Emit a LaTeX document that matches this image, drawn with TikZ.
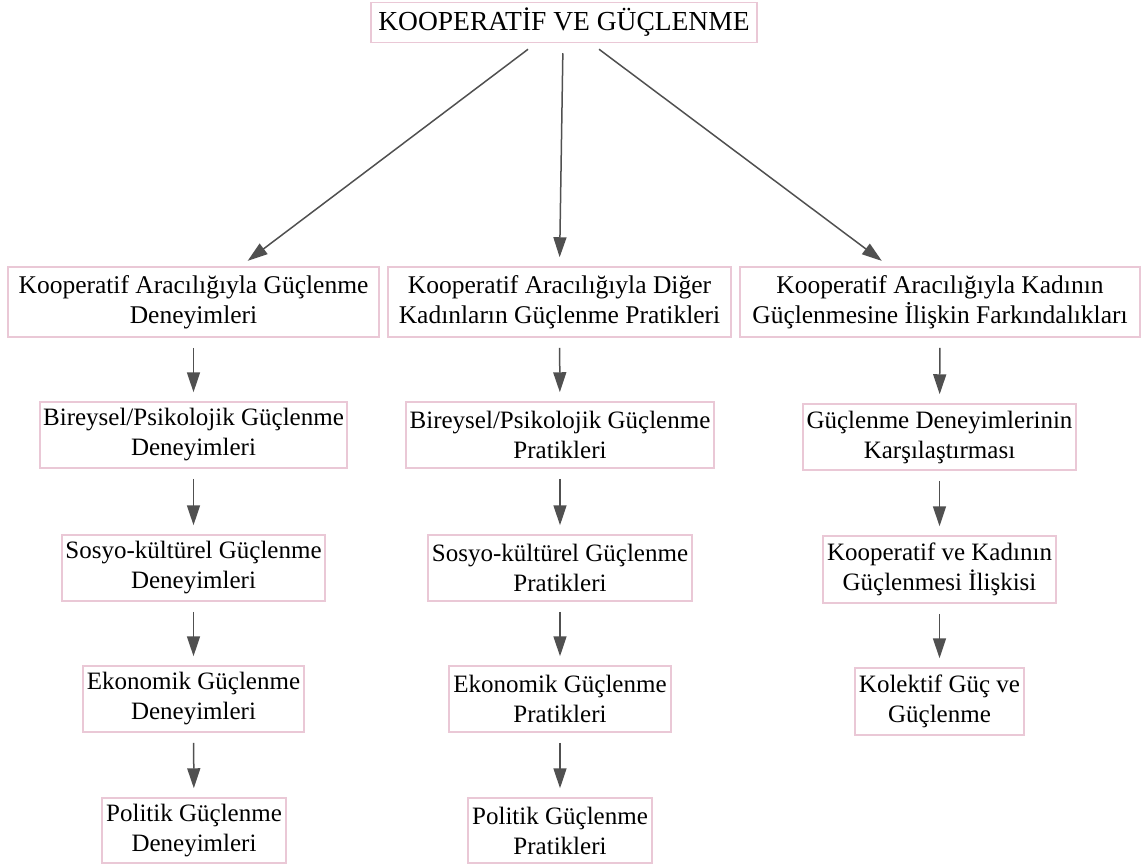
\documentclass[tikz,border=0pt]{standalone}
\usepackage{fontspec}
\setmainfont{Liberation Serif}
\usetikzlibrary{arrows.meta}
\definecolor{boxpink}{RGB}{234,200,214}
\definecolor{arrgray}{RGB}{80,80,80}

\begin{document}
\begin{tikzpicture}[x=1pt,y=-1pt,
  box/.style={draw=boxpink, line width=1.5pt, fill=white, align=center, inner sep=0pt, font=\fontsize{25}{30}\selectfont},
  arr/.style={draw=arrgray, line width=1.5pt, -{Triangle[length=20pt,width=13pt]}, arrgray, shorten <=10pt, shorten >=9pt}]
  \useasboundingbox (0,0) rectangle (1142,865);
  \node [box, minimum width=386pt, minimum height=40pt, font=\fontsize{27.5}{33}\selectfont] (top) at (564,22.5) {KOOPERATİF VE GÜÇLENME};

  \node [box, minimum width=371pt, minimum height=70pt, font=\fontsize{25.5}{30}\selectfont] (exp) at (193.5,302) {Kooperatif Aracılığıyla Güçlenme\\Deneyimleri};
  \node [box, minimum width=343pt, minimum height=70pt, font=\fontsize{25.5}{30}\selectfont] (prac) at (559.5,302) {Kooperatif Aracılığıyla Diğer\\Kadınların Güçlenme Pratikleri};
  \node [box, minimum width=400pt, minimum height=70pt, font=\fontsize{25.5}{30}\selectfont] (aware) at (940,302) {Kooperatif Aracılığıyla Kadının\\Güçlenmesine İlişkin Farkındalıkları};

  \node [box, minimum width=307pt, minimum height=66pt] (expind) at (193.5,435) {Bireysel/Psikolojik Güçlenme\\Deneyimleri};
  \node [box, minimum width=263pt, minimum height=66pt] (expsoc) at (193.5,568) {Sosyo-kültürel Güçlenme\\Deneyimleri};
  \node [box, minimum width=221pt, minimum height=66pt] (expeco) at (193.5,699) {Ekonomik Güçlenme\\Deneyimleri};
  \node [box, minimum width=184pt, minimum height=65pt] (exppol) at (194,830.5) {Politik Güçlenme\\Deneyimleri};

  \node [box, minimum width=308pt, minimum height=66pt] (pracind) at (560,435) {Bireysel/Psikolojik Güçlenme\\Pratikleri};
  \node [box, minimum width=264pt, minimum height=66pt] (pracsoc) at (560,568) {Sosyo-kültürel Güçlenme\\Pratikleri};
  \node [box, minimum width=222pt, minimum height=66pt] (praceco) at (560,699) {Ekonomik Güçlenme\\Pratikleri};
  \node [box, minimum width=184pt, minimum height=65pt] (pracpol) at (560,830.5) {Politik Güçlenme\\Pratikleri};

  \node [box, minimum width=273pt, minimum height=66pt] (awcomp) at (939.5,437) {Güçlenme Deneyimlerinin\\Karşılaştırması};
  \node [box, minimum width=233pt, minimum height=67pt] (awrel) at (939.5,569.5) {Kooperatif ve Kadının\\Güçlenmesi İlişkisi};
  \node [box, minimum width=169pt, minimum height=67pt] (awcol) at (939.5,701.5) {Kolektif Güç ve\\Güçlenme};

  \draw [arr] ([xshift=-28pt]top.south) -- ([xshift=47pt]exp.north);
  \draw [arr] ([xshift=-1pt]top.south) -- (prac.north);
  \draw [arr] ([xshift=27pt]top.south) -- ([xshift=-51pt]aware.north);

  \draw [arr] (exp) -- (expind);
  \draw [arr] (expind) -- (expsoc);
  \draw [arr] (expsoc) -- (expeco);
  \draw [arr] (expeco) -- (exppol);

  \draw [arr] (prac) -- (pracind);
  \draw [arr] (pracind) -- (pracsoc);
  \draw [arr] (pracsoc) -- (praceco);
  \draw [arr] (praceco) -- (pracpol);

  \draw [arr] (aware) -- (awcomp);
  \draw [arr] (awcomp) -- (awrel);
  \draw [arr] (awrel) -- (awcol);
\end{tikzpicture}
\end{document}
